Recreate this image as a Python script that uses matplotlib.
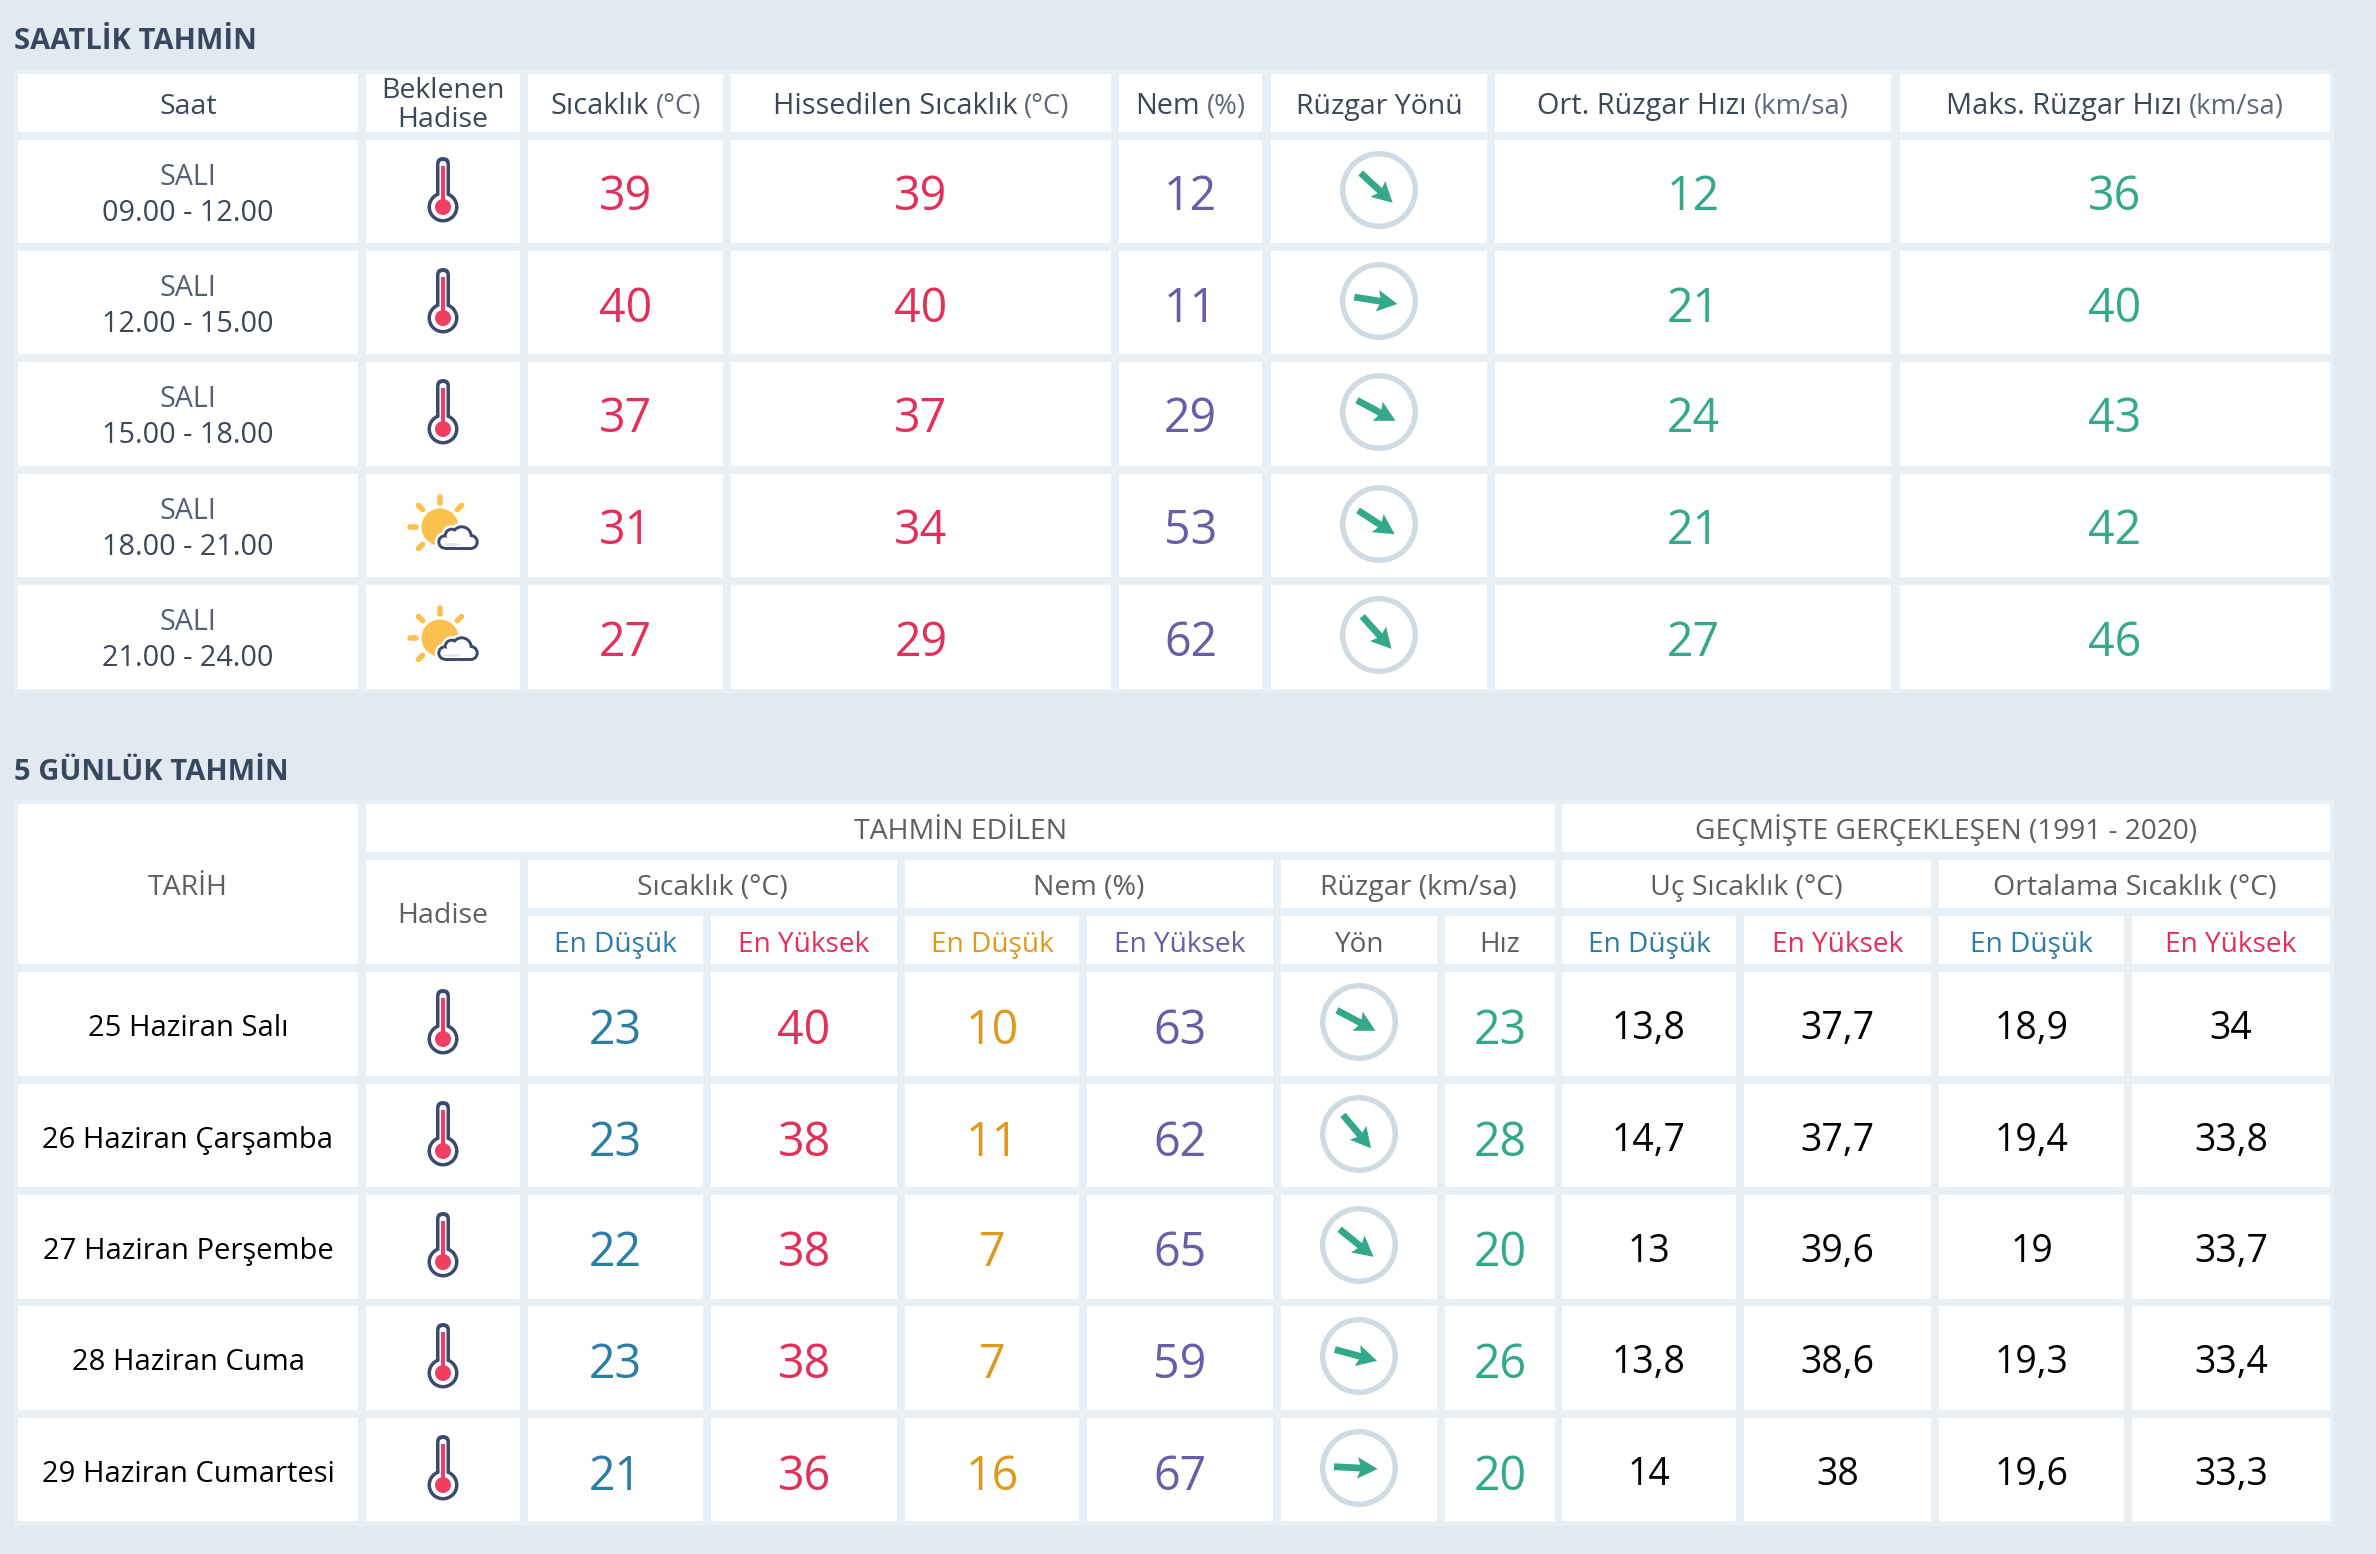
import numpy as np
import matplotlib
matplotlib.use("Agg")
import matplotlib.pyplot as plt
from matplotlib.patches import Rectangle, Circle, Ellipse, FancyBboxPatch, Polygon

# hourly table
hours_day = ["SALI", "SALI", "SALI", "SALI", "SALI"]
hours_range = ["09.00 - 12.00", "12.00 - 15.00", "15.00 - 18.00", "18.00 - 21.00", "21.00 - 24.00"]
hours_icon = ["hot", "hot", "hot", "partly", "partly"]
hours_temp = [39, 40, 37, 31, 27]
hours_feel = [39, 40, 37, 34, 29]
hours_hum = [12, 11, 29, 53, 62]
hours_dir = [43, 9, 28, 33, 48]
hours_avg = [12, 21, 24, 21, 27]
hours_max = [36, 40, 43, 42, 46]

# 5 day table
days = ["25 Haziran Salı", "26 Haziran Çarşamba", "27 Haziran Perşembe", "28 Haziran Cuma", "29 Haziran Cumartesi"]
day_tmin = [23, 23, 22, 23, 21]
day_tmax = [40, 38, 38, 38, 36]
day_hmin = [10, 11, 7, 7, 16]
day_hmax = [63, 62, 65, 59, 67]
day_dir = [28, 50, 39, 15, 3]
day_speed = [23, 28, 20, 26, 20]
day_ext_min = ["13,8", "14,7", "13", "13,8", "14"]
day_ext_max = ["37,7", "37,7", "39,6", "38,6", "38"]
day_avg_min = ["18,9", "19,4", "19", "19,3", "19,6"]
day_avg_max = ["34", "33,8", "33,7", "33,4", "33,3"]

BG = "#E2EAF1"
GRID = "#E8F0F6"
RED = "#E2305A"
PURPLE = "#6B5CA5"
GREEN = "#33A88B"
BLUE = "#2C7DA6"
ORANGE = "#E0991F"
NAVY = "#3D4A6B"
SLATE = "#3C4758"
GRAY = "#5F5F5F"
SIZE_HEAD = 20.5
SIZE_NUM = 33.5

plt.rcParams["font.family"] = ["Open Sans", "DejaVu Sans"]

fig = plt.figure(figsize=(23.76, 15.54), dpi=100, facecolor=BG)
ax = fig.add_axes([0, 0, 1, 1])
ax.set_xlim(0, 2376)
ax.set_ylim(1554, 0)
ax.axis("off")


def cell(x0, x1, y0, y1):
    ax.add_patch(Rectangle((x0, y0), x1 - x0, y1 - y0, fc="white", ec="none"))


def label(x, y, s, color=SLATE, size=SIZE_HEAD, weight="normal"):
    return ax.text(x, y, s, color=color, fontsize=size, weight=weight, ha="center", va="baseline")


def label_unit(x, y, s, unit, color=SLATE, size=20.8):
    # name in regular, unit in a lighter colour, centred together
    r = fig.canvas.get_renderer()
    a = ax.text(x, y, s, color=color, fontsize=size, ha="left", va="baseline")
    b = ax.text(x, y, unit, color="#5E6878", fontsize=size - 1, ha="left", va="baseline")
    wa = a.get_window_extent(r).width + 7
    wb = b.get_window_extent(r).width
    a.set_x(x - (wa + wb) / 2)
    b.set_x(x - (wa + wb) / 2 + wa)


def thermometer(cx, top):
    ax.add_patch(Circle((cx, top + 67), 15.5, fc=NAVY, ec="none"))
    ax.add_patch(FancyBboxPatch((cx - 7, top + 17), 14, 60, boxstyle="round,pad=0,rounding_size=7", fc=NAVY, ec="none"))
    ax.add_patch(Circle((cx, top + 67), 12, fc="white", ec="none"))
    ax.add_patch(FancyBboxPatch((cx - 3.5, top + 21), 7, 50, boxstyle="round,pad=0,rounding_size=3.5", fc="white", ec="none"))
    ax.add_patch(Rectangle((cx - 2, top + 26), 4, 38, fc="#F03E62", ec="none"))
    ax.add_patch(Circle((cx, top + 67), 8, fc="#F03E62", ec="none"))


def cloud(cx, cy, grow, color):
    lobes = [(5, 15, 7.7), (11.7, 8.7, 8), (21.7, 9.3, 11), (30.7, 15, 8)]
    for dx, dy, r in lobes:
        ax.add_patch(Circle((cx + dx, cy + dy), r + grow, fc=color, ec="none"))
    ax.add_patch(Rectangle((cx + 5, cy + 12), 25.7, 10.7 + grow, fc=color, ec="none"))


def sun_cloud(cx, top):
    cy = top + 53
    for deg in [45, 90, 135, 180, 225]:
        t = np.deg2rad(deg)
        ax.plot([cx + 24.5 * np.cos(t), cx + 30.5 * np.cos(t)], [cy - 24.5 * np.sin(t), cy - 30.5 * np.sin(t)],
                color="#FBC04D", lw=4, solid_capstyle="round")
    ax.add_patch(Circle((cx, cy), 18.5, fc="#FBC04D", ec="none"))
    cloud(cx, cy, 2.5, "white")
    cloud(cx, cy, 0, NAVY)
    cloud(cx, cy, -3, "white")
    ax.add_patch(Ellipse((cx + 12, cy + 17.5), 17, 2.5, fc="#DEE1E7", ec="none"))


def wind(cx, cy, deg):
    ax.add_patch(Circle((cx, cy), 36.3, fc="white", ec="#D0DAE2", lw=3.9))
    pts = np.array([[-25, -3.4], [1, -3.4], [-1.5, -10.8], [18.7, 0], [-1.5, 10.8], [1, 3.4], [-25, 3.4]])
    t = np.deg2rad(deg)
    rot = np.array([[np.cos(t), -np.sin(t)], [np.sin(t), np.cos(t)]])
    ax.add_patch(Polygon(pts @ rot.T + [cx, cy], closed=True, fc=GREEN, ec="none"))


# ---- section titles
ax.text(14, 49, "SAATLİK TAHMİN", color="#37475E", fontsize=21, weight="bold", va="baseline")
ax.text(14, 780, "5 GÜNLÜK TAHMİN", color="#37475E", fontsize=21, weight="bold", va="baseline")

# ---- hourly table
ax.add_patch(Rectangle((14, 70), 2320, 623, fc=GRID, ec="none"))
cols1 = [(18, 358), (366, 520), (528, 723), (731, 1111), (1119, 1262), (1271, 1487), (1495, 1891), (1900, 2330)]
rows1 = [(140, 243), (251, 354), (362, 466), (474, 577), (585, 689)]
mid1 = [(a + b) / 2 for a, b in cols1]

for a, b in cols1:
    cell(a, b, 74, 132)
    for y0, y1 in rows1:
        cell(a, b, y0, y1)

label(mid1[0], 114, "Saat")
label(mid1[1], 98, "Beklenen")
label(mid1[1], 127, "Hadise")
label_unit(mid1[2], 114, "Sıcaklık", "(°C)")
label_unit(mid1[3], 114, "Hissedilen Sıcaklık", "(°C)")
label_unit(mid1[4], 114, "Nem", "(%)")
label(mid1[5], 114, "Rüzgar Yönü")
label_unit(mid1[6], 114, "Ort. Rüzgar Hızı", "(km/sa)")
label_unit(mid1[7], 114, "Maks. Rüzgar Hızı", "(km/sa)")

for i, (y0, y1) in enumerate(rows1):
    label(mid1[0], y0 + 45, hours_day[i], color="#556072", size=20.7)
    label(mid1[0], y0 + 81, hours_range[i], color=SLATE, size=20.7)
    if hours_icon[i] == "hot":
        thermometer(mid1[1], y0)
    else:
        sun_cloud(mid1[1] - 3, y0)
    label(mid1[2], y0 + 70.5, str(hours_temp[i]), color=RED, size=SIZE_NUM)
    label(mid1[3], y0 + 70.5, str(hours_feel[i]), color=RED, size=SIZE_NUM)
    label(mid1[4], y0 + 70.5, str(hours_hum[i]), color=PURPLE, size=SIZE_NUM)
    wind(mid1[5], y0 + 50, hours_dir[i])
    label(mid1[6], y0 + 70.5, str(hours_avg[i]), color=GREEN, size=SIZE_NUM)
    label(mid1[7], y0 + 70.5, str(hours_max[i]), color=GREEN, size=SIZE_NUM)

# ---- 5 day table
ax.add_patch(Rectangle((14, 800), 2320, 726, fc=GRID, ec="none"))
cols2 = [(18, 358), (366, 520), (528, 703), (711, 897), (905, 1079), (1087, 1273),
         (1281, 1437), (1445, 1555), (1562, 1736), (1744, 1931), (1939, 2124), (2132, 2330)]
rows2 = [(972, 1076), (1084, 1187), (1195, 1299), (1306, 1410), (1418, 1521)]
mid2 = [(a + b) / 2 for a, b in cols2]

cell(18, 358, 804, 964)
cell(366, 1555, 804, 852)
cell(1562, 2330, 804, 852)
cell(366, 520, 860, 964)
for a, b in [(528, 897), (905, 1273), (1281, 1555), (1562, 1931), (1939, 2330)]:
    cell(a, b, 860, 908)
for a, b in cols2[2:]:
    cell(a, b, 916, 964)

for a, b in cols2:
    for y0, y1 in rows2:
        cell(a, b, y0, y1)

label(mid2[0], 895, "TARİH", color=GRAY)
label((366 + 1555) / 2, 839, "TAHMİN EDİLEN", color=GRAY)
label((1562 + 2330) / 2, 839, "GEÇMİŞTE GERÇEKLEŞEN (1991 - 2020)", color=GRAY, size=20.2)
label(mid2[1], 923, "Hadise", color=GRAY)
label((528 + 897) / 2, 895, "Sıcaklık (°C)", color=GRAY)
label((905 + 1273) / 2, 895, "Nem (%)", color=GRAY)
label((1281 + 1555) / 2, 895, "Rüzgar (km/sa)", color=GRAY)
label((1562 + 1931) / 2, 895, "Uç Sıcaklık (°C)", color=GRAY)
label((1939 + 2330) / 2, 895, "Ortalama Sıcaklık (°C)", color=GRAY)

sub_heads = ["En Düşük", "En Yüksek", "En Düşük", "En Yüksek", "Yön", "Hız", "En Düşük", "En Yüksek", "En Düşük", "En Yüksek"]
sub_colors = [BLUE, RED, ORANGE, PURPLE, GRAY, GRAY, BLUE, RED, BLUE, RED]
for k in range(len(sub_heads)):
    label(mid2[k + 2], 952, sub_heads[k], color=sub_colors[k], size=20.2)

for i, (y0, y1) in enumerate(rows2):
    label(mid2[0], y0 + 64, days[i], color="#000000", size=21)
    thermometer(mid2[1], y0)
    label(mid2[2], y0 + 71.5, str(day_tmin[i]), color=BLUE, size=SIZE_NUM)
    label(mid2[3], y0 + 71.5, str(day_tmax[i]), color=RED, size=SIZE_NUM)
    label(mid2[4], y0 + 71.5, str(day_hmin[i]), color=ORANGE, size=SIZE_NUM)
    label(mid2[5], y0 + 71.5, str(day_hmax[i]), color=PURPLE, size=SIZE_NUM)
    wind(mid2[6], y0 + 50, day_dir[i])
    label(mid2[7], y0 + 71.5, str(day_speed[i]), color=GREEN, size=SIZE_NUM)
    label(mid2[8], y0 + 67, day_ext_min[i], color="#000000", size=27)
    label(mid2[9], y0 + 67, day_ext_max[i], color="#000000", size=27)
    label(mid2[10], y0 + 67, day_avg_min[i], color="#000000", size=27)
    label(mid2[11], y0 + 67, day_avg_max[i], color="#000000", size=27)

fig.savefig("out.png", dpi=100, facecolor=BG)
